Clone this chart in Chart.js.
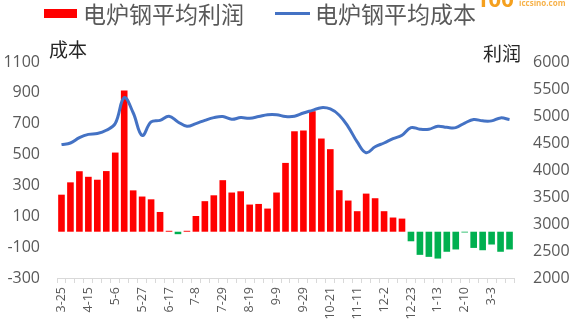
<!DOCTYPE html>
<html>
<head>
<meta charset="utf-8">
<script src="https://cdn.jsdelivr.net/npm/chart.js@4/dist/chart.umd.min.js"></script>
<style>
  html, body { margin: 0; padding: 0; background: #fff; }
  #wrap { width: 580px; height: 332px; }
</style>
</head>
<body>
<div id="wrap"><canvas id="myChart" width="580" height="332"></canvas></div>
<script>
const weeks = [
  "3-25", "4-1", "4-8", "4-15", "4-22", "4-29", "5-6", "5-13", "5-20", "5-27",
  "6-3", "6-10", "6-17", "6-24", "7-1", "7-8", "7-15", "7-22", "7-29", "8-5",
  "8-12", "8-19", "8-26", "9-2", "9-9", "9-16", "9-23", "9-29", "10-8", "10-14",
  "10-21", "10-28", "11-4", "11-11", "11-18", "11-25", "12-2", "12-9", "12-16", "12-23",
  "12-30", "1-6", "1-13", "1-20", "1-27", "2-10", "2-17", "2-24", "3-3", "3-10",
  "3-17",
];

// weekly average profit (left axis)
const profit = [
  240, 320, 392, 356, 337, 393, 513, 915, 268, 228,
  210, 128, 6, -16, 6, 102, 198, 236, 334, 254,
  262, 176, 180, 150, 254, 446, 651, 656, 781, 604,
  535, 269, 202, 133, 247, 217, 133, 92, 85, -62,
  -150, -163, -174, -130, -115, -5, -105, -120, -83, -130,
  -115,
];

// weekly average cost (right axis)
const cost = [
  4470, 4500, 4600, 4660, 4675, 4735, 4860, 5340, 5060, 4640,
  4890, 4920, 4995, 4890, 4810, 4860, 4920, 4970, 4990, 4940,
  4970, 4960, 4990, 5025, 5025, 4990, 4995, 5055, 5105, 5155,
  5130, 5015, 4800, 4520, 4320, 4430, 4500, 4580, 4645, 4785,
  4755, 4755, 4810, 4790, 4785, 4870, 4935, 4910, 4910, 4965,
  4935,
];

const leftTicks = [-300, -100, 100, 300, 500, 700, 900, 1100];
const rightTicks = [2000, 2500, 3000, 3500, 4000, 4500, 5000, 5500, 6000];

const RED = "#FF0000";
const GREEN = "#00B050";
const BLUE = "#4472C4";
const GREY = "#595959";
const CJK = "'Noto Sans CJK SC', 'Noto Sans', sans-serif";
const NUM = "'Open Sans', 'Noto Sans', sans-serif";

// legend, axis captions and the corner logo
const decorations = {
  id: "decorations",
  afterDraw(chart) {
    const c = chart.ctx;
    c.save();
    c.textBaseline = "middle";
    c.textAlign = "left";

    c.fillStyle = RED;
    c.fillRect(44, 9, 33, 9);
    c.fillStyle = GREY;
    c.font = "23px " + CJK;
    c.fillText("电炉钢平均利润", 83, 14);

    c.strokeStyle = BLUE;
    c.lineWidth = 3;
    c.beginPath();
    c.moveTo(275, 13.5);
    c.lineTo(310, 13.5);
    c.stroke();
    c.fillText("电炉钢平均成本", 315, 14);

    c.fillStyle = "#262626";
    c.font = "19px " + CJK;
    c.fillText("成本", 49, 50);
    c.fillText("利润", 483, 54);

    c.fillStyle = "#F5A01E";
    c.font = "bold 22px " + NUM;
    c.textBaseline = "alphabetic";
    c.fillText("100", 476, 7);
    c.font = "bold 8px " + NUM;
    c.fillStyle = "#F7B24A";
    c.textBaseline = "middle";
    c.fillText("iccsino.com", 519, 4);
    c.restore();
  },
};

new Chart(document.getElementById("myChart"), {
  data: {
    labels: weeks,
    datasets: [
      {
        type: "line",
        label: "电炉钢平均成本",
        data: cost,
        yAxisID: "y2",
        borderColor: BLUE,
        borderWidth: 3,
        tension: 0.4,
        pointRadius: 0,
        order: 0,
      },
      {
        type: "bar",
        label: "电炉钢平均利润",
        data: profit,
        yAxisID: "y",
        backgroundColor: profit.map((v) => (v >= 0 ? RED : GREEN)),
        barPercentage: 0.74,
        categoryPercentage: 1,
        order: 1,
      },
    ],
  },
  options: {
    responsive: false,
    animation: false,
    layout: { padding: { top: 62, left: 0, right: 0, bottom: 0 } },
    scales: {
      x: {
        offset: true,
        afterFit: (s) => { s.height = 54; },
        grid: {
          display: true,
          offset: true,
          drawOnChartArea: false,
          drawTicks: true,
          tickLength: 5,
          color: "#D9D9D9",
        },
        border: { display: true, color: "#D9D9D9" },
        ticks: {
          autoSkip: false,
          minRotation: 90,
          maxRotation: 90,
          padding: 4,
          color: GREY,
          font: { family: NUM, size: 12.5 },
          callback: (v, i) => (i % 3 === 0 ? weeks[i] : ""),
        },
      },
      y: {
        position: "left",
        min: leftTicks[0],
        max: leftTicks[leftTicks.length - 1],
        afterFit: (s) => { s.width = 57; },
        afterBuildTicks: (s) => { s.ticks = leftTicks.map((v) => ({ value: v })); },
        grid: { display: false, drawTicks: false },
        border: { display: false },
        ticks: {
          padding: 17,
          color: GREY,
          font: { family: NUM, size: 16 },
          callback: (v) => String(v),
        },
      },
      y2: {
        position: "right",
        min: rightTicks[0],
        max: rightTicks[rightTicks.length - 1],
        afterFit: (s) => { s.width = 66; },
        afterBuildTicks: (s) => { s.ticks = rightTicks.map((v) => ({ value: v })); },
        grid: { display: false, drawTicks: false },
        border: { display: false },
        ticks: {
          padding: 19,
          color: GREY,
          font: { family: NUM, size: 16 },
          callback: (v) => String(v),
        },
      },
    },
    plugins: {
      legend: { display: false },
      tooltip: { enabled: false },
    },
  },
  plugins: [decorations],
});
</script>
</body>
</html>
